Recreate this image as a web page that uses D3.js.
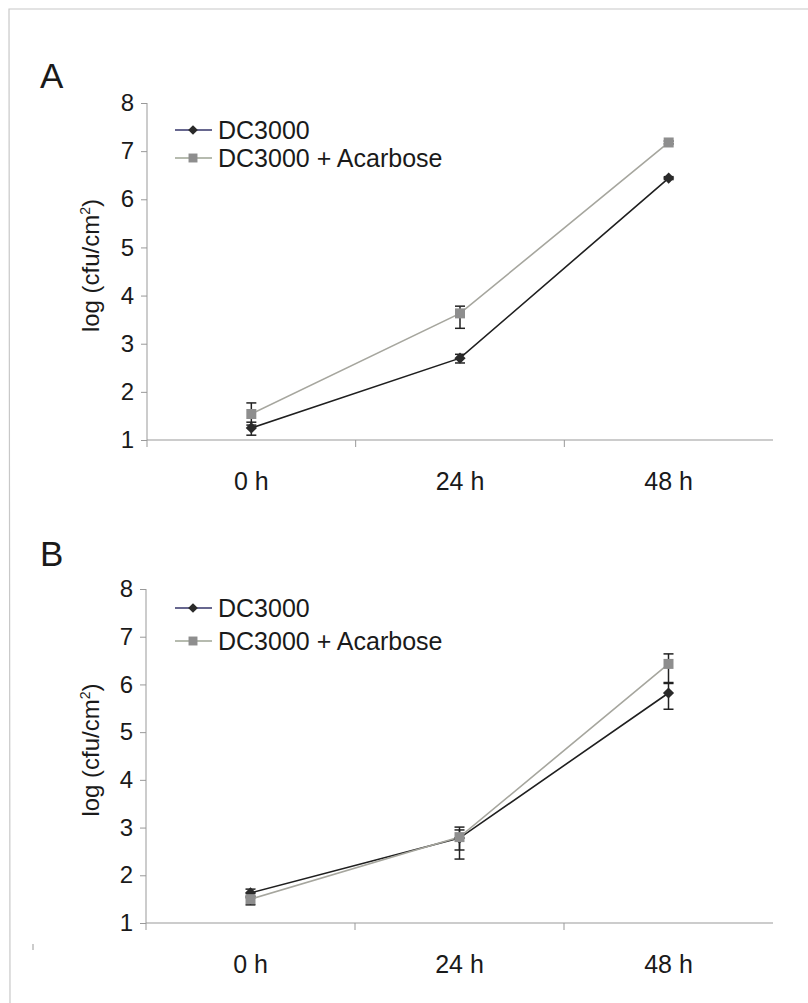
<!DOCTYPE html>
<html><head><meta charset="utf-8">
<script src="https://cdn.jsdelivr.net/npm/d3@7"></script>
<style>body{margin:0;background:#fff}svg{display:block}text{font-family:"Liberation Sans",Arial,sans-serif;fill:#1a1a1a}</style>
</head><body>
<script>
const categories = ["0 h", "24 h", "48 h"];
const yTicks = [1, 2, 3, 4, 5, 6, 7, 8];
const seriesNames = ["DC3000", "DC3000 + Acarbose"];
const panelLabels = ["A", "B"];
// Panel A
const aDC = [1.25, 2.70, 6.44];
const aDCup = [0.12, 0.08, 0.03];
const aDCdown = [0.15, 0.10, 0.03];
const aAca = [1.54, 3.63, 7.18];
const aAcaUp = [0.23, 0.15, 0.03];
const aAcaDown = [0.23, 0.31, 0.03];
// Panel B
const bDC = [1.63, 2.78, 5.82];
const bDCup = [0.08, 0.23, 0.20];
const bDCdown = [0.10, 0.25, 0.34];
const bAca = [1.50, 2.80, 6.43];
const bAcaUp = [0.06, 0.15, 0.21];
const bAcaDown = [0.12, 0.46, 0.39];

const W = 808, H = 1003;
const svg = d3.select("body").append("svg").attr("width", W).attr("height", H);

// frame
svg.append("path").attr("d", "M808,9 L9,9 L10,1003").attr("fill", "none").attr("stroke", "#c8c8c8").attr("stroke-width", 1.2);
svg.append("line").attr("x1", 33).attr("x2", 33).attr("y1", 944).attr("y2", 950).attr("stroke", "#999");

const panels = [
  {label: panelLabels[0], top: 103, bottom: 440, xAxis: 147, labelY: 88, legY: [130, 158],
   series: [{v: aDC, up: aDCup, dn: aDCdown}, {v: aAca, up: aAcaUp, dn: aAcaDown}]},
  {label: panelLabels[1], top: 589, bottom: 923, xAxis: 146, labelY: 566, legY: [608, 641],
   series: [{v: bDC, up: bDCup, dn: bDCdown}, {v: bAca, up: bAcaUp, dn: bAcaDown}]}
];

const lineColors = ["#1f1f1f", "#a6a69e"];
const legendLineColors = ["#35356a", "#9ea494"];
const markerFill = ["#2a2a2a", "#8e8e8e"];

panels.forEach(p => {
  const g = svg.append("g");
  const x = d3.scaleBand().domain(categories).range([p.xAxis, 773]);
  const y = d3.scaleLinear().domain([1, 8]).range([p.bottom, p.top]);

  g.append("text").attr("x", 40).attr("y", p.labelY).attr("font-size", 35).text(p.label);

  // y axis
  const ya = g.append("g").attr("transform", `translate(${p.xAxis},0)`)
    .call(d3.axisLeft(y).tickValues(yTicks).tickSize(6).tickPadding(7).tickFormat(d3.format("d")));
  ya.select(".domain").attr("stroke", "#999").attr("d", `M0,${p.top}V${p.bottom}`);
  ya.selectAll(".tick line").attr("stroke", "#999");
  ya.selectAll(".tick text").attr("font-size", 24).attr("fill", "#1a1a1a")
    .attr("font-family", "Liberation Sans, Arial, sans-serif");

  // x axis
  const xa = g.append("g").attr("transform", `translate(0,${p.bottom})`)
    .call(d3.axisBottom(x).tickSize(0).tickPadding(32));
  xa.select(".domain").attr("stroke", "#999").attr("d", `M${p.xAxis},0H773`);
  xa.selectAll(".tick text").attr("font-size", 25).attr("fill", "#1a1a1a")
    .attr("font-family", "Liberation Sans, Arial, sans-serif");
  // boundary ticks
  const bounds = categories.map(c => x(c));
  xa.selectAll(".bt").data(bounds).join("line").attr("class", "bt")
    .attr("x1", d => d).attr("x2", d => d).attr("y1", 0).attr("y2", 7).attr("stroke", "#999");

  // y label
  g.append("text").attr("transform", `translate(99,${(p.top + p.bottom) / 2 - 6}) rotate(-90)`)
    .attr("text-anchor", "middle").attr("font-size", 24)
    .html('log (cfu/cm<tspan dy="-9" font-size="14">2</tspan><tspan dy="9">)</tspan>');

  const cx = c => x(c) + x.bandwidth() / 2;

  // series
  p.series.forEach((s, si) => {
    const pts = categories.map((c, i) => ({c, v: s.v[i], up: s.up[i], dn: s.dn[i]}));
    const line = d3.line().x(d => cx(d.c)).y(d => y(d.v));
    g.append("path").datum(pts).attr("d", line).attr("fill", "none")
      .attr("stroke", lineColors[si]).attr("stroke-width", 1.6);
    // error bars
    const eb = g.append("g").attr("stroke", "#222").attr("stroke-width", 1.5);
    pts.forEach(d => {
      const X = cx(d.c);
      eb.append("line").attr("x1", X).attr("x2", X).attr("y1", y(d.v + d.up)).attr("y2", y(d.v - d.dn));
      eb.append("line").attr("x1", X - 5).attr("x2", X + 5).attr("y1", y(d.v + d.up)).attr("y2", y(d.v + d.up));
      eb.append("line").attr("x1", X - 5).attr("x2", X + 5).attr("y1", y(d.v - d.dn)).attr("y2", y(d.v - d.dn));
    });
  });
  p.series.forEach((s, si) => {
    const pts = categories.map((c, i) => ({c, v: s.v[i]}));
    const sym = d3.symbol().type(si === 0 ? d3.symbolDiamond2 : d3.symbolSquare).size(si === 0 ? 80 : 100);
    g.selectAll(null).data(pts).join("path")
      .attr("transform", d => `translate(${cx(d.c)},${y(d.v)})`)
      .attr("d", sym).attr("fill", markerFill[si]);
  });

  // legend
  seriesNames.forEach((n, si) => {
    const ly = p.legY[si];
    g.append("line").attr("x1", 175).attr("x2", 212).attr("y1", ly).attr("y2", ly)
      .attr("stroke", legendLineColors[si]).attr("stroke-width", 1.6);
    g.append("path").attr("transform", `translate(193,${ly})`)
      .attr("d", d3.symbol().type(si === 0 ? d3.symbolDiamond2 : d3.symbolSquare).size(si === 0 ? 60 : 80))
      .attr("fill", markerFill[si]);
    g.append("text").attr("x", 218).attr("y", ly + 9).attr("font-size", 25).text(n);
  });
});
</script>
</body></html>
